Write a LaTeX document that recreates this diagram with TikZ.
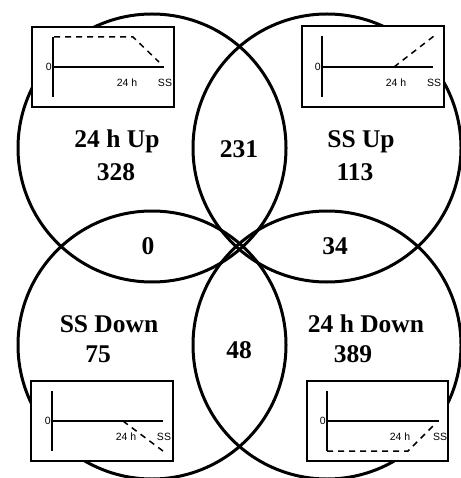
\documentclass[tikz,border=0pt]{standalone}
\usepackage{fontspec}
\setmainfont{Liberation Serif}
\newfontfamily\smallsans{Liberation Sans}
\begin{document}
\begin{tikzpicture}[x=1pt,y=-1pt,
  ring/.style={line width=3pt},
  inset/.style={draw,fill=white,line width=1.4pt},
  axisline/.style={line width=1.5pt},
  trend/.style={line width=1.5pt,dash pattern=on 6pt off 5pt},
  biglab/.style={font=\fontsize{25.5}{28}\selectfont\bfseries,inner sep=0pt,anchor=base},
  ticklab/.style={font=\smallsans\fontsize{10.5}{11}\selectfont,inner sep=0pt}]
\useasboundingbox (0,0) rectangle (460,478);
% circles
\draw[ring] (152,148) circle[radius=134];
\draw[ring] (327,148) circle[radius=134];
\draw[ring] (152,345) circle[radius=134];
\draw[ring] (327,345) circle[radius=134];
% big labels
\node[biglab] (tlname) at (117,148) {24 h Up};
\node[biglab] (tlnum) at (116,180) {328};
\node[biglab] (trname) at (361,148) {SS Up};
\node[biglab] (trnum) at (355,180) {113};
\node[biglab] (top) at (239,158) {231};
\node[biglab] (left) at (148,254) {0};
\node[biglab] (right) at (335,254) {34};
\node[biglab] (bottom) at (239,358) {48};
\node[biglab] (blname) at (109,332) {SS Down};
\node[biglab] (blnum) at (98,362) {75};
\node[biglab] (brname) at (366,332) {24 h Down};
\node[biglab] (brnum) at (353,362) {389};
% inset top-left
\draw[inset] (32,27) rectangle (174,107);
\coordinate (a1) at (53,37); \coordinate (a2) at (53,97);
\coordinate (h1) at (53,67); \coordinate (h2) at (164,67);
\draw[axisline] (a1) -- (a2);
\draw[axisline] (h1) -- (h2);
\node[ticklab,anchor=east] (z1) at (52,67) {0};
\node[ticklab] (t1) at (127,83) {24 h};
\node[ticklab] (s1) at (165,83) {SS};
\coordinate (d1a) at (54,37); \coordinate (d1b) at (133,37); \coordinate (d1c) at (159,62);
\draw[trend] (d1a) -- (d1b) -- (d1c);
% inset top-right
\draw[inset] (302,26) rectangle (444,107);
\coordinate (b1) at (322,36); \coordinate (b2) at (322,97);
\coordinate (k1) at (322,67); \coordinate (k2) at (433,67);
\draw[axisline] (b1) -- (b2);
\draw[axisline] (k1) -- (k2);
\node[ticklab,anchor=east] (z2) at (321,67) {0};
\node[ticklab] (t2) at (396,83) {24 h};
\node[ticklab] (s2) at (434,83) {SS};
\coordinate (d2a) at (394,67); \coordinate (d2b) at (434,36);
\draw[trend] (d2a) -- (d2b);
% inset bottom-left
\draw[inset] (31,381) rectangle (173,461);
\coordinate (c1) at (52,391); \coordinate (c2) at (52,451);
\coordinate (m1) at (52,421); \coordinate (m2) at (163,421);
\draw[axisline] (c1) -- (c2);
\draw[axisline] (m1) -- (m2);
\node[ticklab,anchor=east] (z3) at (51,421) {0};
\node[ticklab] (t3) at (126,437) {24 h};
\node[ticklab] (s3) at (164,437) {SS};
\coordinate (d3a) at (123,421); \coordinate (d3b) at (163,451);
\draw[trend] (d3a) -- (d3b);
% inset bottom-right
\draw[inset] (307,381) rectangle (448,461);
\coordinate (e1) at (327,391); \coordinate (e2) at (327,451);
\coordinate (n1) at (327,421); \coordinate (n2) at (439,421);
\draw[axisline] (e1) -- (e2);
\draw[axisline] (n1) -- (n2);
\node[ticklab,anchor=east] (z4) at (326,421) {0};
\node[ticklab] (t4) at (400,437) {24 h};
\node[ticklab] (s4) at (440,437) {SS};
\coordinate (d4a) at (327,451); \coordinate (d4b) at (408,451); \coordinate (d4c) at (434,425);
\draw[trend] (d4a) -- (d4b) -- (d4c);
\end{tikzpicture}
\end{document}
